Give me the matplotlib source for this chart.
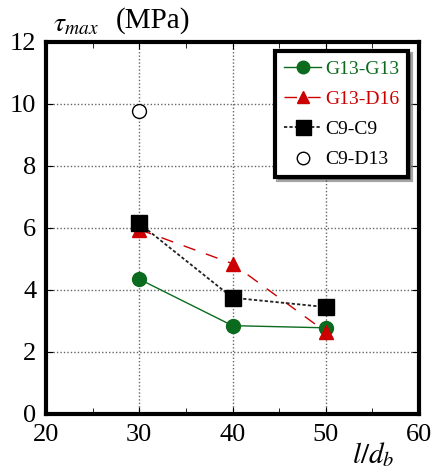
import numpy as np
import matplotlib.pyplot as plt
from matplotlib.ticker import MultipleLocator

plt.rcParams['font.family'] = ['Liberation Serif', 'DejaVu Serif']
plt.rcParams['mathtext.fontset'] = 'stix'

# data
x_ld = [30, 40, 50]
g13_g13 = [4.35, 2.85, 2.78]
g13_d16 = [5.95, 4.85, 2.65]
c9_c9 = [6.15, 3.75, 3.45]
c9_d13_x = [30]
c9_d13 = [9.78]

fig = plt.figure(figsize=(4.34, 4.74), dpi=100)
ax = fig.add_axes([46/434, 60/474, 373/434, 372/474])

ax.plot(x_ld, g13_g13, color='#0a6b1e', lw=1.0, marker='o', ms=10,
        label='G13-G13')
ax.plot(x_ld, g13_d16, color='#cc0000', lw=1.0, dashes=(9, 8), marker='^',
        ms=10, label='G13-D16')
ax.plot(x_ld, c9_c9, color='#222222', lw=1.3, dashes=(1.8, 1.2), marker='s',
        ms=12, mfc='black', mec='black', label='C9-C9')
ax.plot(c9_d13_x, c9_d13, ls='none', marker='o', ms=10, mfc='white',
        mec='black', mew=1.0, label='C9-D13')

ax.set_xlim(20, 60)
ax.set_ylim(0, 12)
ax.xaxis.set_major_locator(MultipleLocator(10))
ax.xaxis.set_minor_locator(MultipleLocator(5))
ax.yaxis.set_major_locator(MultipleLocator(2))
ax.grid(True, which='major', color='#666666', ls=(0, (1, 1.5)), lw=1.0)
ax.tick_params(which='both', direction='in', top=True, right=True,
               labelsize=19, pad=7)
ax.tick_params(which='major', length=5)
ax.tick_params(which='minor', length=4)
for s in ax.spines.values():
    s.set_linewidth(3)

fig.text(76/434, 1 - 25/474, r'$\tau_{max}$', fontsize=20, ha='center', va='center')
fig.text(153/434, 1 - 21/474, '(MPa)', fontsize=21, ha='center', va='center')
fig.text(373/434, 1 - 455/474, r'$l/d_b$', fontsize=21, ha='center', va='center')

leg = ax.legend(loc='upper right', bbox_to_anchor=(0.97, 0.975), fontsize=14,
                frameon=True, fancybox=False, shadow=True, handlelength=1.9,
                borderpad=0.45, labelspacing=0.65, handletextpad=0.2,
                borderaxespad=0.0, markerscale=0.9)
leg.get_frame().set_edgecolor('black')
leg.get_frame().set_linewidth(3)
for t, c in zip(leg.get_texts(), ['#0a6b1e', '#cc0000', 'black', 'black']):
    t.set_color(c)

fig.savefig('out.png', dpi=100)
